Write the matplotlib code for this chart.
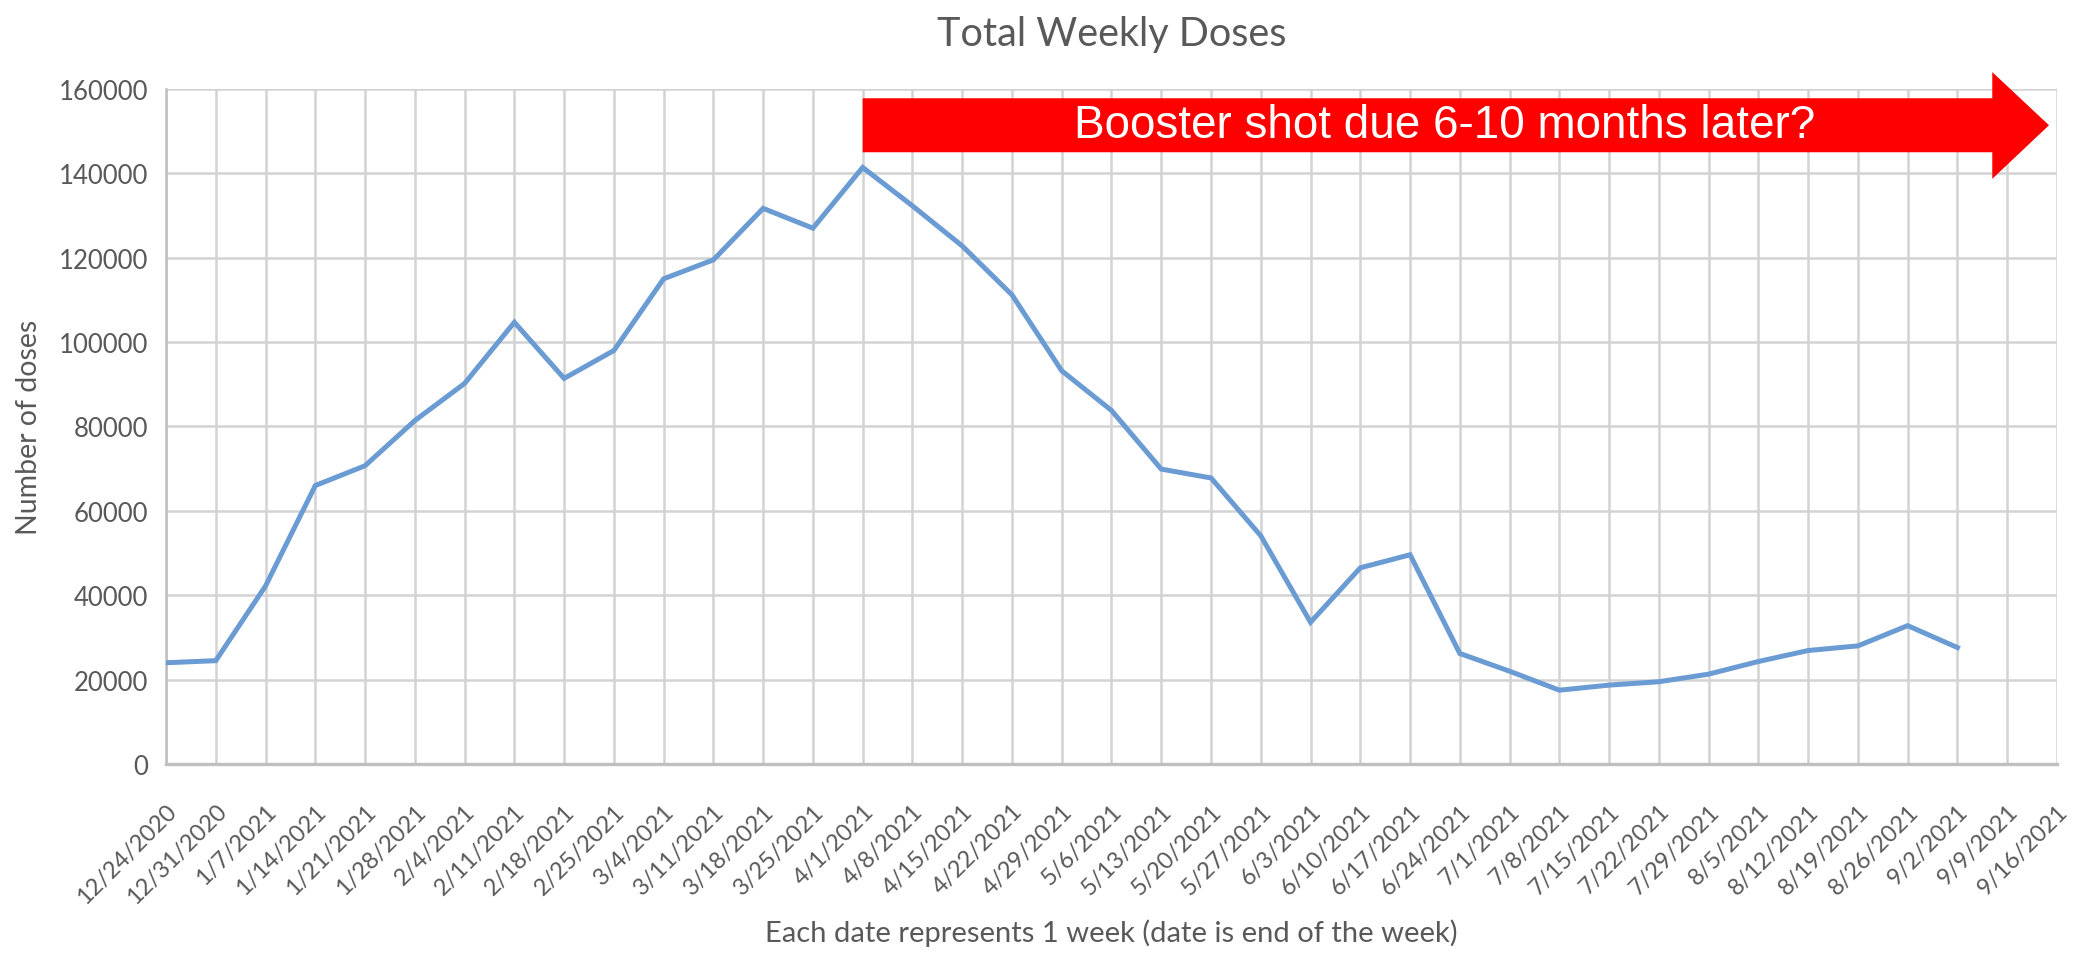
import matplotlib
matplotlib.use('Agg')
import matplotlib.pyplot as plt
from matplotlib.patches import Polygon

# weekly dose data
weeks = ['12/24/2020', '12/31/2020', '1/7/2021', '1/14/2021', '1/21/2021', '1/28/2021',
         '2/4/2021', '2/11/2021', '2/18/2021', '2/25/2021', '3/4/2021', '3/11/2021',
         '3/18/2021', '3/25/2021', '4/1/2021', '4/8/2021', '4/15/2021', '4/22/2021',
         '4/29/2021', '5/6/2021', '5/13/2021', '5/20/2021', '5/27/2021', '6/3/2021',
         '6/10/2021', '6/17/2021', '6/24/2021', '7/1/2021', '7/8/2021', '7/15/2021',
         '7/22/2021', '7/29/2021', '8/5/2021', '8/12/2021', '8/19/2021', '8/26/2021',
         '9/2/2021', '9/9/2021', '9/16/2021']
doses = [24000, 24500, 42200, 66000, 70700, 81400, 90200, 104700, 91400, 98000,
         115000, 119500, 131700, 127000, 141400, 132300, 122800, 111200, 93200, 83800,
         69900, 67800, 54100, 33600, 46500, 49600, 26200, 22000, 17500, 18700,
         19500, 21300, 24300, 26900, 28000, 32800, 27600]
y_ticks = [0, 20000, 40000, 60000, 80000, 100000, 120000, 140000, 160000]

booster_text = 'Booster shot due 6-10 months later?'

grey = '#595959'
plt.rcParams['font.family'] = ['Lato', 'DejaVu Sans']

fig = plt.figure(figsize=(20.83, 9.54), dpi=100)
ax = fig.add_axes([0.0797, 0.1981, 0.9078, 0.7076])

x = list(range(len(doses)))
ax.plot(x, doses, color='#6A9BD3', lw=3.6, solid_joinstyle='miter', zorder=3)

ax.set_xlim(0, len(weeks) - 1)
ax.set_ylim(0, 160000)
ax.set_xticks(range(len(weeks)))
ax.set_xticklabels(weeks, rotation=45, ha='right', va='top', rotation_mode='anchor',
                   fontsize=17, color=grey)
ax.set_yticks(y_ticks)
ax.set_yticklabels([str(v) for v in y_ticks], fontsize=18.5, color=grey)
ax.tick_params(axis='both', length=0)
ax.tick_params(axis='x', pad=26)
ax.tick_params(axis='y', pad=13)

ax.grid(True, color='#D3D3D3', lw=1.8, zorder=0)
ax.set_axisbelow(True)
for s in ['top', 'right']:
    ax.spines[s].set_visible(False)
ax.spines['left'].set_color('#BFBFBF')
ax.spines['left'].set_linewidth(1.8)
ax.spines['bottom'].set_color('#BFBFBF')
ax.spines['bottom'].set_linewidth(2.4)

ax.set_title('Total Weekly Doses', fontsize=28.5, color=grey, pad=32)
ax.set_xlabel('Each date represents 1 week (date is end of the week)', fontsize=21,
              color=grey, labelpad=8)
ax.set_ylabel('Number of doses', fontsize=20.5, color=grey, labelpad=12)

# red arrow annotation starting at the 4/1 peak
a_x0, a_xb, a_xt = 14, 36.7, 37.84
a_lo, a_hi = 145000, 157800
h_lo, h_hi = 138700, 164000
arrow = Polygon([(a_x0, a_lo), (a_xb, a_lo), (a_xb, h_lo), (a_xt, (a_lo + a_hi) / 2),
                 (a_xb, h_hi), (a_xb, a_hi), (a_x0, a_hi)],
                closed=True, facecolor='#FF0000', edgecolor='none', clip_on=False, zorder=4)
ax.add_patch(arrow)
ax.text(25.7, (a_lo + a_hi) / 2, booster_text, color='white', fontsize=33,
        family=['Liberation Sans', 'DejaVu Sans'],
        ha='center', va='center', zorder=5)

fig.savefig('out.png', dpi=100)
